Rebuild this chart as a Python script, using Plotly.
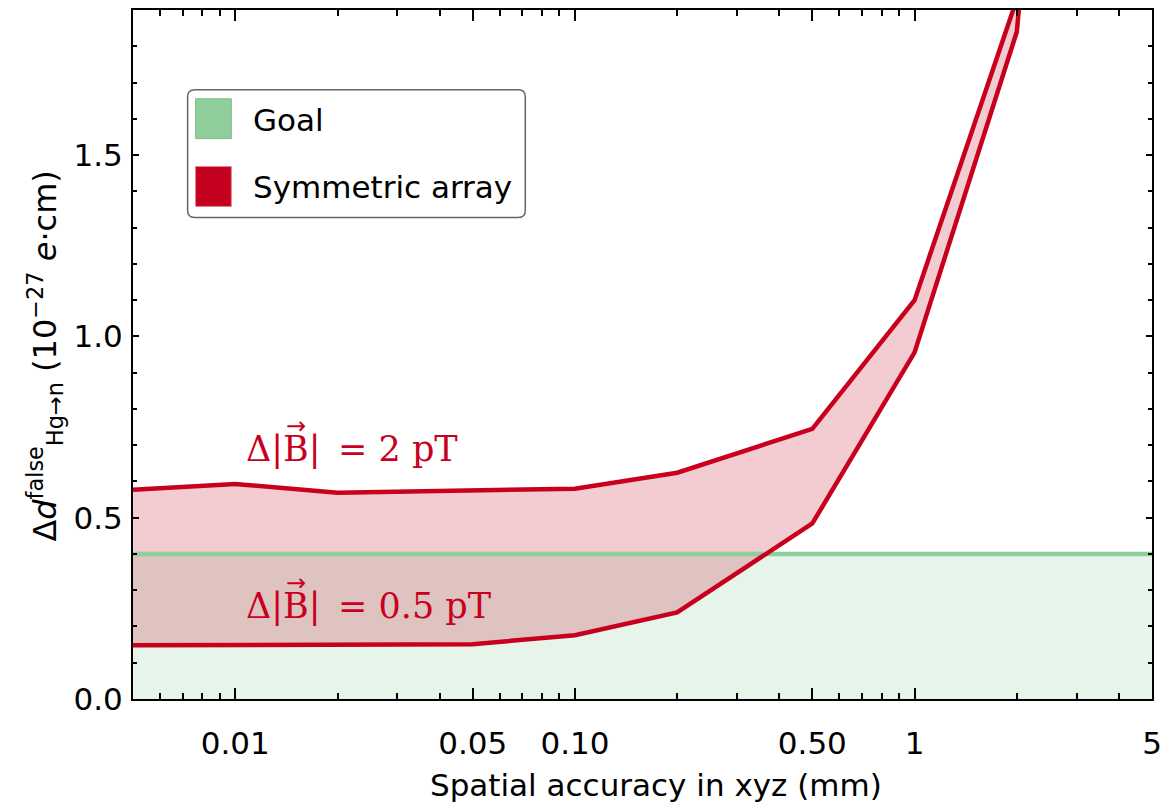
import plotly.graph_objects as go
import numpy as np

# ---- data ----
accuracy_mm = [0.005, 0.01, 0.02, 0.05, 0.1, 0.2, 0.5, 1, 2, 5]
edm_2pT = [0.577, 0.593, 0.569, 0.574, 0.580, 0.624, 0.745, 1.10, 1.93, 8.0]
edm_05pT = [0.148, 0.148, 0.150, 0.151, 0.176, 0.239, 0.484, 0.956, 1.84, 6.0]
goal_x = [0.005, 5]
goal_y = [0.4, 0.4]

x_tickvals = [0.01, 0.05, 0.1, 0.5, 1, 5]
x_ticktext = ["0.01", "0.05", "0.10", "0.50", "1", "5"]
x_minor = [0.006, 0.007, 0.008, 0.009, 0.02, 0.03, 0.04, 0.06, 0.07, 0.08, 0.09,
           0.2, 0.3, 0.4, 0.6, 0.7, 0.8, 0.9, 2, 3, 4]
y_tickvals = [0.0, 0.5, 1.0, 1.5]
y_ticktext = ["0.0", "0.5", "1.0", "1.5"]
y_minor = [0.1, 0.2, 0.3, 0.4, 0.6, 0.7, 0.8, 0.9, 1.1, 1.2, 1.3, 1.4, 1.6, 1.7, 1.8]

RED = "#c8001e"
GREEN_LINE = "#8fcf9b"
GREEN_FILL = "#e6f4ea"
BAND_FILL = "rgba(190,0,25,0.2)"
FONT = "DejaVu Sans"
SERIF = "DejaVu Serif"

W, H = 1170, 809
L, R, T, B = 133, 11, 8, 110
PW, PH = W - L - R, H - T - B


def px(xp):
    return (xp - L) / PW


def py(yp):
    return (H - B - yp) / PH


fig = go.Figure()
# goal region
fig.add_trace(go.Scatter(x=goal_x, y=goal_y, mode="lines", line=dict(width=0),
                         fill="tozeroy", fillcolor=GREEN_FILL, showlegend=False,
                         hoverinfo="skip"))
# band
fig.add_trace(go.Scatter(x=accuracy_mm, y=edm_05pT, mode="lines", line=dict(width=0),
                         showlegend=False, hoverinfo="skip"))
fig.add_trace(go.Scatter(x=accuracy_mm, y=edm_2pT, mode="lines", line=dict(width=0),
                         fill="tonexty", fillcolor=BAND_FILL, showlegend=False,
                         hoverinfo="skip"))
# goal line
fig.add_trace(go.Scatter(x=goal_x, y=goal_y, mode="lines",
                         line=dict(color=GREEN_LINE, width=4.5), showlegend=False))
# red boundary lines
fig.add_trace(go.Scatter(x=accuracy_mm, y=edm_05pT, mode="lines",
                         line=dict(color=RED, width=4.5), showlegend=False))
fig.add_trace(go.Scatter(x=accuracy_mm, y=edm_2pT, mode="lines",
                         line=dict(color=RED, width=4.5), showlegend=False))

fig.update_xaxes(type="log", range=[np.log10(0.005), np.log10(5)],
                 tickmode="array", tickvals=x_tickvals, ticktext=x_ticktext,
                 ticks="inside", ticklen=11, tickwidth=1.5, tickcolor="black",
                 minor=dict(tickmode="array", tickvals=x_minor, ticks="inside",
                            ticklen=6, tickwidth=1.5, tickcolor="black"),
                 showline=True, linecolor="black", linewidth=2, mirror="ticks",
                 showgrid=False, zeroline=False,
                 tickfont=dict(family=FONT, size=31, color="black"),
                 ticklabelstandoff=16)
fig.update_yaxes(range=[0, 1.9],
                 tickmode="array", tickvals=y_tickvals, ticktext=y_ticktext,
                 ticks="inside", ticklen=6, tickwidth=1.5, tickcolor="black",
                 minor=dict(tickmode="array", tickvals=y_minor, ticks="inside",
                            ticklen=4, tickwidth=1.5, tickcolor="black"),
                 showline=True, linecolor="black", linewidth=2, mirror="ticks",
                 showgrid=False, zeroline=False,
                 tickfont=dict(family=FONT, size=31, color="black"),
                 ticklabelstandoff=2)

annotations = []
# axis titles
annotations.append(dict(text="Spatial accuracy in xyz (mm)", xref="paper", yref="paper",
                        x=px(660), y=py(785), xanchor="center", yanchor="middle",
                        showarrow=False, font=dict(family=FONT, size=31, color="black")))
annotations.append(dict(text="Δ<i>d</i><sup>false</sup><sub>Hg→n</sub> (10<sup>−27</sup> <i>e</i>·cm)",
                        xref="paper", yref="paper", x=px(44), y=py(355),
                        xanchor="center", yanchor="middle", textangle=-90,
                        showarrow=False, font=dict(family=FONT, size=32, color="black")))
# band labels
label_font = dict(family=SERIF, size=35, color=RED)
annotations.append(dict(text="Δ|B|\u2002= 2 pT", xref="paper", yref="paper",
                        x=px(245), y=py(448), xanchor="left", yanchor="middle",
                        showarrow=False, font=label_font))
annotations.append(dict(text="Δ|B|\u2002= 0.5 pT", xref="paper", yref="paper",
                        x=px(245), y=py(606), xanchor="left", yanchor="middle",
                        showarrow=False, font=label_font))
# vector arrows over B
arrow_font = dict(family=FONT, size=24, color=RED)
annotations.append(dict(text="→", xref="paper", yref="paper", x=px(297), y=py(425),
                        xanchor="center", yanchor="middle", showarrow=False, font=arrow_font))
annotations.append(dict(text="→", xref="paper", yref="paper", x=px(297), y=py(583),
                        xanchor="center", yanchor="middle", showarrow=False, font=arrow_font))
# legend texts
annotations.append(dict(text="Goal", xref="paper", yref="paper", x=px(252), y=py(118),
                        xanchor="left", yanchor="middle", showarrow=False,
                        font=dict(family=FONT, size=31, color="black")))
annotations.append(dict(text="Symmetric array", xref="paper", yref="paper", x=px(252), y=py(186),
                        xanchor="left", yanchor="middle", showarrow=False,
                        font=dict(family=FONT, size=31, color="black")))

# legend box (rounded)
x0, x1, y0, y1, r = 188, 528, 88, 216, 7
rx, ry = r / PW, r / PH
X0, X1, Y0, Y1 = px(x0), px(x1), py(y1), py(y0)
path = (f"M {X0+rx},{Y0} L {X1-rx},{Y0} Q {X1},{Y0} {X1},{Y0+ry} "
        f"L {X1},{Y1-ry} Q {X1},{Y1} {X1-rx},{Y1} L {X0+rx},{Y1} "
        f"Q {X0},{Y1} {X0},{Y1-ry} L {X0},{Y0+ry} Q {X0},{Y0} {X0+rx},{Y0} Z")
shapes = [
    dict(type="path", path=path, xref="paper", yref="paper",
         line=dict(color="#666666", width=1.5), fillcolor="white", layer="above"),
    dict(type="rect", xref="paper", yref="paper", x0=px(196), x1=px(232), y0=py(137), y1=py(97),
         line=dict(color="#7fbf8b", width=1), fillcolor="#8fce9a", layer="above"),
    dict(type="rect", xref="paper", yref="paper", x0=px(196), x1=px(232), y0=py(205), y1=py(165),
         line=dict(color="#e08090", width=1), fillcolor="#c4001f", layer="above"),
]

fig.update_layout(width=W, height=H, margin=dict(l=L, r=R, t=T, b=B),
                  plot_bgcolor="white", paper_bgcolor="white",
                  annotations=annotations, shapes=shapes, showlegend=False)

fig.write_html("out.html")
